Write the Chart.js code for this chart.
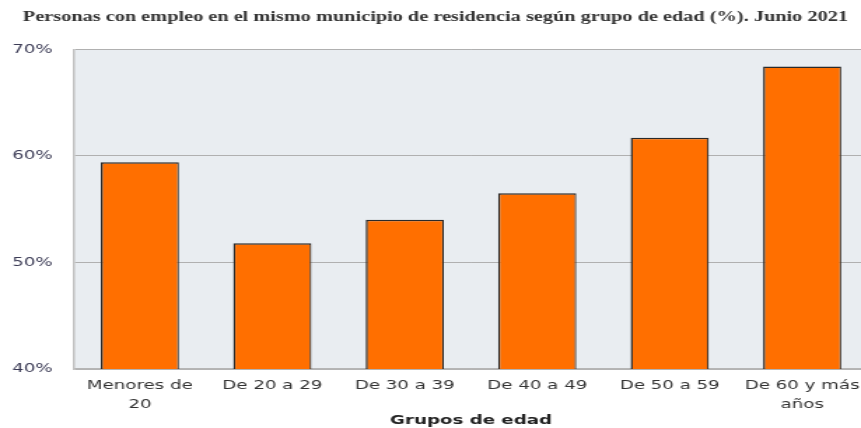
<!DOCTYPE html>
<html>
<head>
<meta charset="utf-8">
<script src="https://cdn.jsdelivr.net/npm/chart.js@4"></script>
<style>
  html, body { margin: 0; padding: 0; background: #fff; overflow: hidden; width: 861px; height: 428px; }
  #wrap { position: absolute; left: 0; top: 0; width: 622px; height: 428px; transform: scaleX(1.4); transform-origin: 0 0; }
</style>
</head>
<body>
<div id="wrap"><canvas id="c"></canvas></div>
<script>
const categories = [["Menores de", "20"], "De 20 a 29", "De 30 a 39", "De 40 a 49", "De 50 a 59", ["De 60 y más", "años"]];
const values = [59.4, 51.8, 54.0, 56.5, 61.7, 68.4];
const yTicks = [40, 50, 60, 70];
const titleText = "Personas con empleo en el mismo municipio de residencia según grupo de edad (%). Junio 2021";
const xTitle = "Grupos de edad";

const plotBg = {
  id: 'plotBg',
  beforeDraw(chart) {
    const { ctx, chartArea: a } = chart;
    ctx.save();
    ctx.fillStyle = '#e9edf1';
    ctx.fillRect(a.left, a.top, a.right - a.left, a.bottom - a.top);
    ctx.restore();
  }
};

new Chart(document.getElementById('c'), {
  type: 'bar',
  data: {
    labels: categories,
    datasets: [{
      data: values,
      backgroundColor: '#ff6f00',
      borderColor: '#2a2a2a',
      borderWidth: { top: 1.5, left: 1.5, right: 1.2, bottom: 0 },
      borderSkipped: 'bottom',
      categoryPercentage: 1,
      barPercentage: 0.59
    }]
  },
  options: {
    responsive: true,
    maintainAspectRatio: false,
    animation: false,
    devicePixelRatio: 1,
    layout: { padding: { left: 0, right: 0, top: 0, bottom: 0 } },
    plugins: {
      legend: { display: false },
      tooltip: { enabled: false },
      title: {
        display: true,
        text: titleText,
        color: '#333',
        font: { family: 'Liberation Serif', size: 14.5, weight: 'bold' },
        padding: { top: 9, bottom: 23 }
      }
    },
    scales: {
      x: {
        grid: { display: false, drawTicks: false },
        border: { display: true, color: '#b5b5b5', width: 1.5 },
        ticks: {
          color: '#333',
          font: { family: 'DejaVu Sans', size: 13, lineHeight: 1.4 },
          padding: 8,
          maxRotation: 0,
          autoSkip: false
        },
        title: {
          display: true,
          text: xTitle,
          color: '#222',
          font: { family: 'DejaVu Sans', size: 13, weight: 'bold' },
          padding: { top: 0, bottom: 0 }
        },
        afterFit(s) { s.height = 59; }
      },
      y: {
        min: 40,
        max: 70,
        afterBuildTicks(s) { s.ticks = yTicks.map(v => ({ value: v })); },
        grid: { color: '#b0b0b0', lineWidth: 1, drawTicks: false },
        border: { display: true, color: '#c2c2c2', width: 1.5 },
        ticks: {
          color: '#3b3b55',
          font: { family: 'DejaVu Sans', size: 13 },
          padding: 15,
          callback: v => v + '%'
        },
        afterFit(s) { s.width = 52.6; }
      }
    }
  },
  plugins: [plotBg]
});
</script>
</body>
</html>
